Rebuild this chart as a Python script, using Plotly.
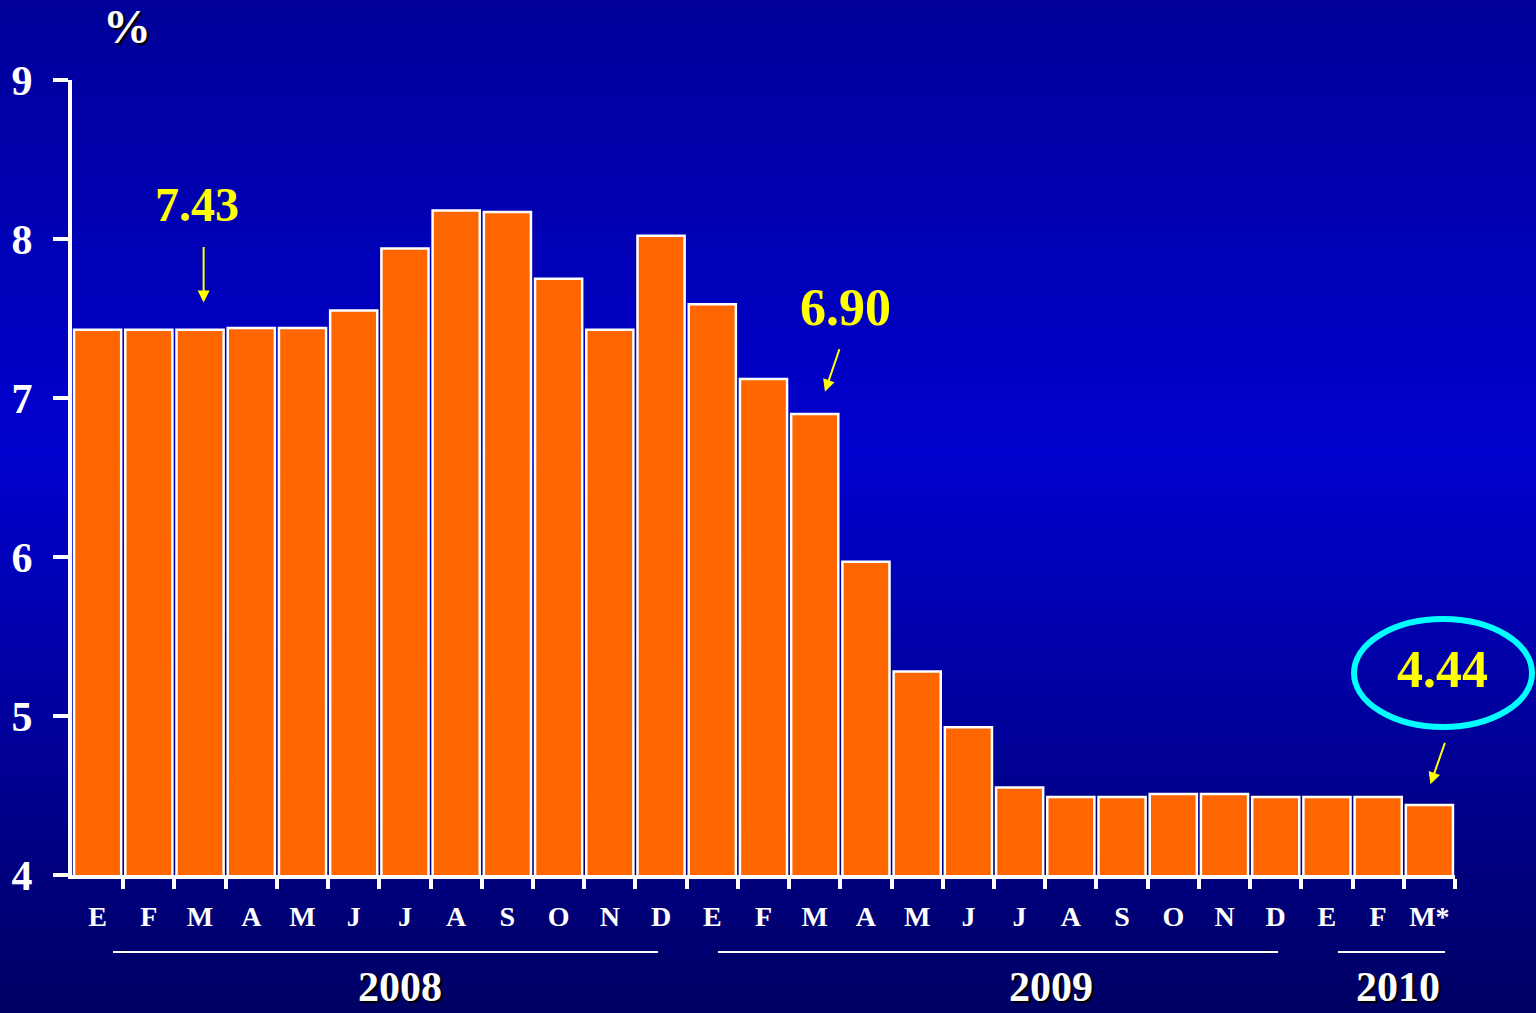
import plotly.graph_objects as go

# ---- data ----
months = ["E", "F", "M", "A", "M", "J", "J", "A", "S", "O", "N", "D",
          "E", "F", "M", "A", "M", "J", "J", "A", "S", "O", "N", "D",
          "E", "F", "M*"]
rates = [7.43, 7.43, 7.43, 7.44, 7.44, 7.55, 7.94, 8.18, 8.17, 7.75, 7.43, 8.02,
         7.59, 7.12, 6.90, 5.97, 5.28, 4.93, 4.55, 4.49, 4.49, 4.51, 4.51, 4.49,
         4.49, 4.49, 4.44]
years = ["2008", "2009", "2010"]
y_ticks = [4, 5, 6, 7, 8, 9]

x_idx = list(range(len(rates)))
FONT = "Liberation Serif"

fig = go.Figure()
fig.add_trace(go.Bar(
    x=x_idx, y=rates,
    marker=dict(color="#FF6600", line=dict(color="white", width=2.5)),
    width=0.92,
    hoverinfo="skip",
))

# ---- background gradient (vertical) ----
def lerp(a, b, t):
    return int(round(a + (b - a) * t))

stops = [(0.0, (0, 0, 152)), (0.45, (0, 0, 206)), (1.0, (0, 0, 100))]
N = 120
H = 1013.0
shapes = []
L, T, PW, PH = 72.0, 80.0, 1383.0, 795.0
for i in range(N):
    p0 = i * H / N
    p1 = (i + 1) * H / N
    t = (p0 + p1) / 2 / H
    for (s0, c0), (s1, c1) in zip(stops[:-1], stops[1:]):
        if s0 <= t <= s1:
            u = (t - s0) / (s1 - s0)
            col = tuple(lerp(c0[k], c1[k], u) for k in range(3))
            break
    shapes.append(dict(
        type="rect", xref="paper", yref="paper", layer="below",
        x0=-0.1, x1=1.1,
        y0=(T + PH - p1 - 0.5) / PH, y1=(T + PH - p0 + 0.5) / PH,
        fillcolor="rgb(%d,%d,%d)" % col, line=dict(width=0),
    ))

def px_x(px):
    return (px - L) / PW

def px_y(py):
    return (T + PH - py) / PH

# year underlines
for a, b in [(113, 658), (718, 1278), (1338, 1445)]:
    shapes.append(dict(type="line", xref="paper", yref="paper",
                       x0=px_x(a), x1=px_x(b), y0=px_y(952), y1=px_y(952),
                       line=dict(color="white", width=2)))
# ellipse around final value
shapes.append(dict(type="circle", xref="paper", yref="paper",
                   x0=px_x(1354), x1=px_x(1532), y0=px_y(727), y1=px_y(619),
                   line=dict(color="#00FFFF", width=6)))

annotations = []
shadow = "2px 2px 1px black"
# % label
annotations.append(dict(text="<b>%</b>", xref="paper", yref="paper",
                        x=px_x(127), y=px_y(26), xanchor="center", yanchor="middle",
                        showarrow=False,
                        font=dict(family=FONT, size=48, color="white", shadow=shadow)))
# years
for yr, cx in zip(years, [400, 1051, 1398]):
    annotations.append(dict(text="<b>%s</b>" % yr, xref="paper", yref="paper",
                            x=px_x(cx), y=px_y(1012), xanchor="center", yanchor="bottom",
                            showarrow=False,
                            font=dict(family=FONT, size=42, color="white", shadow=shadow)))

# value callouts
yellow = "#FFFF00"
callouts = [
    # (value, bar index, text x offset, text value, tip x offset, tip value, ax, ay, size)
    (rates[2], 2, -0.06, 8.22, 0.07, 7.60, 0, -57, 48),
    (rates[14], 14, 0.6, 7.57, 0.2, 7.04, 15, -44, 52),
    (rates[26], 26, 0.26, 5.29, 0.02, 4.57, 15, -43, 52),
]
for val, i, dx, ty, tdx, tipy, ax, ay, sz in callouts:
    annotations.append(dict(text="<b>%.2f</b>" % val, x=i + dx, y=ty, xref="x", yref="y",
                            xanchor="center", yanchor="middle", showarrow=False,
                            font=dict(family=FONT, size=sz, color=yellow)))
    annotations.append(dict(text="", x=i + tdx, y=tipy,
                            xref="x", yref="y", showarrow=True,
                            ax=ax, ay=ay, arrowhead=2, arrowsize=1.2, arrowwidth=2,
                            arrowcolor=yellow))

fig.update_layout(
    width=1536, height=1013,
    margin=dict(l=72, r=81, t=80, b=138),
    paper_bgcolor="#0000A0",
    plot_bgcolor="rgba(0,0,0,0)",
    showlegend=False,
    bargap=0.08,
    shapes=shapes,
    annotations=annotations,
    xaxis=dict(
        range=[-0.5, len(rates) - 0.5],
        tickmode="array", tickvals=x_idx, ticktext=["<b>%s</b>" % m for m in months],
        ticks="", showgrid=False, zeroline=False,
        showline=True, linecolor="white", linewidth=4,
        tickfont=dict(family=FONT, size=28, color="white"),
        ticklabelstandoff=13,
        minor=dict(tickmode="array", tickvals=[i + 0.5 for i in x_idx],
                   ticks="outside", ticklen=10, tickwidth=4, tickcolor="white",
                   showgrid=False),
        fixedrange=True,
    ),
    yaxis=dict(
        range=[4, 9],
        tickmode="array", tickvals=y_ticks, ticktext=["<b>%d</b>" % v for v in y_ticks],
        ticks="outside", ticklen=15, tickwidth=4, tickcolor="white",
        showgrid=False, zeroline=False,
        showline=True, linecolor="white", linewidth=4,
        tickfont=dict(family=FONT, size=42, color="white"),
        ticklabelstandoff=12,
        fixedrange=True,
    ),
)

fig.write_html("out.html", config={"displayModeBar": False},
               post_script="document.body.style.margin='0';")
